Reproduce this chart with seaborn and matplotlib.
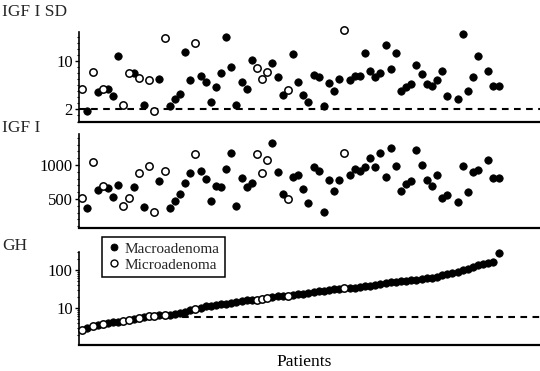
import numpy as np
import pandas as pd
import matplotlib
matplotlib.use("Agg")
import matplotlib.pyplot as plt
from matplotlib.lines import Line2D
from matplotlib.ticker import (FixedLocator, FixedFormatter, MultipleLocator,
                               NullFormatter, LogLocator)
import seaborn as sns

nan = np.nan

# Patients ordered by increasing GH
igf_sd = [5.4, 1.7, 8.2, 4.9, 5.4, 5.4, 4.2, 10.8, 2.8, 8.1,
          8.1, 7.2, 2.7, 6.9, 1.8, 7.1, 13.8, 2.5, 3.7, 4.6,
          11.5, 6.9, 13.0, 7.5, 6.5, 3.2, 5.7, 8.1, 14.0, 9.0,
          2.7, 6.5, 5.4, 10.2, 8.9, 7.0, 8.2, 9.7, 7.4, 4.4,
          5.2, 11.2, 6.5, 4.4, 3.2, 7.7, 7.4, 2.5, 6.4, 5.0,
          7.0, 15.1, 6.8, 7.5, 7.6, 11.3, 8.3, 7.4, 8.1, 12.6,
          8.6, 11.4, 5.0, 5.7, 6.2, 9.3, 7.9, 6.2, 5.8, 6.8,
          8.3, 4.2, nan, 3.7, 14.4, 5.0, 7.3, 10.9, nan, 8.4,
          5.8, 5.8]

igf1 = [510, 364, 1040, 633, 691, 657, 534, 706, 397, 510,
        672, 887, 378, 990, 314, 769, 916, 364, 475, 569,
        740, 887, 1157, 916, 790, 468, 687, 681, 937, 1181,
        397, 813, 672, 740, 1162, 887, 1074, 1331, 893, 574,
        496, 828, 853, 647, 437, 975, 916, 314, 780, 622,
        780, 1172, 853, 937, 912, 975, 1107, 975, 1172, 828,
        1245, 990, 618, 721, 765, 1220, 1000, 780, 696, 853,
        510, 559, nan, 460, 985, 608, 902, 926, nan, 1074,
        813, 813]

gh = [2.64, 2.98, 3.36, 3.57, 3.79, 4.03, 4.28, 4.41, 4.55, 4.83,
      4.98, 5.46, 5.80, 6.16, 6.16, 6.35, 6.54, 6.54, 6.95, 7.39,
      7.85, 8.60, 9.41, 10.3, 10.95, 11.3, 12.0, 12.4, 13.1, 13.5,
      14.4, 15.3, 15.8, 16.2, 16.7, 17.3, 18.3, 19.5, 20.1, 20.7,
      21.3, 22.0, 22.7, 23.4, 24.8, 26.4, 27.2, 28.0, 29.8, 30.7,
      31.6, 32.6, 33.6, 34.6, 35.7, 36.8, 37.9, 40.3, 44.1, 45.5,
      46.9, 48.3, 51.3, 52.9, 54.6, 56.2, 58.0, 59.8, 61.6, 63.5,
      73.9, 78.5, 83.4, 88.6, 97.0, 106, 120, 135, 144, 153,
      162, 285]

micro_patients = [1, 3, 5, 9, 10, 12, 14, 15, 17, 23, 35, 36, 37, 41, 52]

igf_sd_cutoff = 2
gh_cutoff = 5.8
gh_cutoff_from = 18

patients = np.arange(1, len(gh) + 1)
tumour = np.where(np.isin(patients, micro_patients), "Microadenoma", "Macroadenoma")
df = pd.DataFrame({"patient": patients, "igf_sd": igf_sd, "igf1": igf1,
                   "gh": gh, "tumour": tumour})

sns.set_theme(style="ticks")
plt.rcParams["font.family"] = ["Liberation Serif", "DejaVu Serif"]

W, H = 540, 371
fig = plt.figure(figsize=(W / 100, H / 100), dpi=100)

left = 79 / W
width = 1 - left
ax1 = fig.add_axes([left, 1 - 121.5 / H, width, 89.8 / H])
ax2 = fig.add_axes([left, 1 - 227.5 / H, width, 93.5 / H])
ax3 = fig.add_axes([left, 1 - 345 / H, width, 93.3 / H])

xlim = (0.36, 90.05)


def draw_points(ax, col):
    macro = df[df["tumour"] == "Macroadenoma"]
    micro = df[df["tumour"] == "Microadenoma"]
    sns.scatterplot(data=macro, x="patient", y=col, ax=ax, color="black",
                    edgecolor="black", s=28, linewidth=0.6, legend=False,
                    clip_on=False, zorder=3)
    sns.scatterplot(data=micro, x="patient", y=col, ax=ax, color="white",
                    edgecolor="black", s=28, linewidth=1.1, legend=False,
                    clip_on=False, zorder=4)


for ax, col in [(ax1, "igf_sd"), (ax2, "igf1"), (ax3, "gh")]:
    draw_points(ax, col)
    ax.set_xlim(*xlim)
    ax.set_xticks([])
    ax.set_xlabel("")
    ax.set_ylabel("")
    sns.despine(ax=ax, top=True, right=True)
    ax.spines["left"].set_linewidth(1.2)
    ax.spines["bottom"].set_linewidth(1.6)
    ax.spines["left"].set_color("black")
    ax.spines["bottom"].set_color("black")
    ax.tick_params(axis="y", which="major", direction="out", length=3,
                   width=1, labelsize=12, pad=1.5, colors="black")
    ax.tick_params(axis="y", which="minor", direction="out", length=1.8,
                   width=0.8, colors="black")
    ax.patch.set_alpha(0)

# IGF I SD
ax1.set_ylim(0, 14.85)
ax1.yaxis.set_major_locator(FixedLocator([2, 10]))
ax1.yaxis.set_minor_locator(MultipleLocator(1))
ax1.axhline(igf_sd_cutoff, color="black", lw=1.5, ls=(0, (3.2, 2.6)), zorder=2)

# IGF I
ax2.set_ylim(81, 1456)
ax2.yaxis.set_major_locator(FixedLocator([500, 1000]))
ax2.yaxis.set_minor_locator(MultipleLocator(100))

# GH (log scale)
ax3.set_yscale("log")
ax3.set_ylim(1.062, 303)
ax3.yaxis.set_major_locator(FixedLocator([10, 100]))
ax3.yaxis.set_major_formatter(FixedFormatter(["10", "100"]))
ax3.yaxis.set_minor_locator(LogLocator(base=10, subs=np.arange(2, 10)))
ax3.yaxis.set_minor_formatter(NullFormatter())
ax3.plot([gh_cutoff_from, xlim[1]], [gh_cutoff, gh_cutoff], color="black",
         lw=1.5, ls=(0, (3.2, 2.6)), zorder=2)

ax3.set_xlabel("Patients", fontsize=12.5, color="black", va="center")
ax3.xaxis.set_label_coords((304 - 79) / 461, -(361.5 - 345) / 93.3)

handles = [
    Line2D([], [], marker="o", ls="none", markerfacecolor="black",
           markeredgecolor="black", markersize=5, markeredgewidth=0.6),
    Line2D([], [], marker="o", ls="none", markerfacecolor="white",
           markeredgecolor="black", markersize=5, markeredgewidth=1.0),
]
leg = ax3.legend(handles, ["Macroadenoma", "Microadenoma"], loc="upper left",
                 bbox_to_anchor=(0.05, 1.16), frameon=True, fancybox=False,
                 edgecolor="black", framealpha=1, fontsize=11,
                 handletextpad=0.3, borderpad=0.35, labelspacing=0.15,
                 handlelength=0.8, borderaxespad=0)
leg.get_frame().set_linewidth(1.1)
leg.set_zorder(10)

fig.text(2 / W, 1 - 12 / H, "IGF I SD", fontsize=12.5, ha="left", va="center")
fig.text(2 / W, 1 - 128 / H, "IGF I", fontsize=12.5, ha="left", va="center")
fig.text(2 / W, 1 - 246 / H, "GH", fontsize=12.5, ha="left", va="center")

fig.savefig("out.png", dpi=100)
